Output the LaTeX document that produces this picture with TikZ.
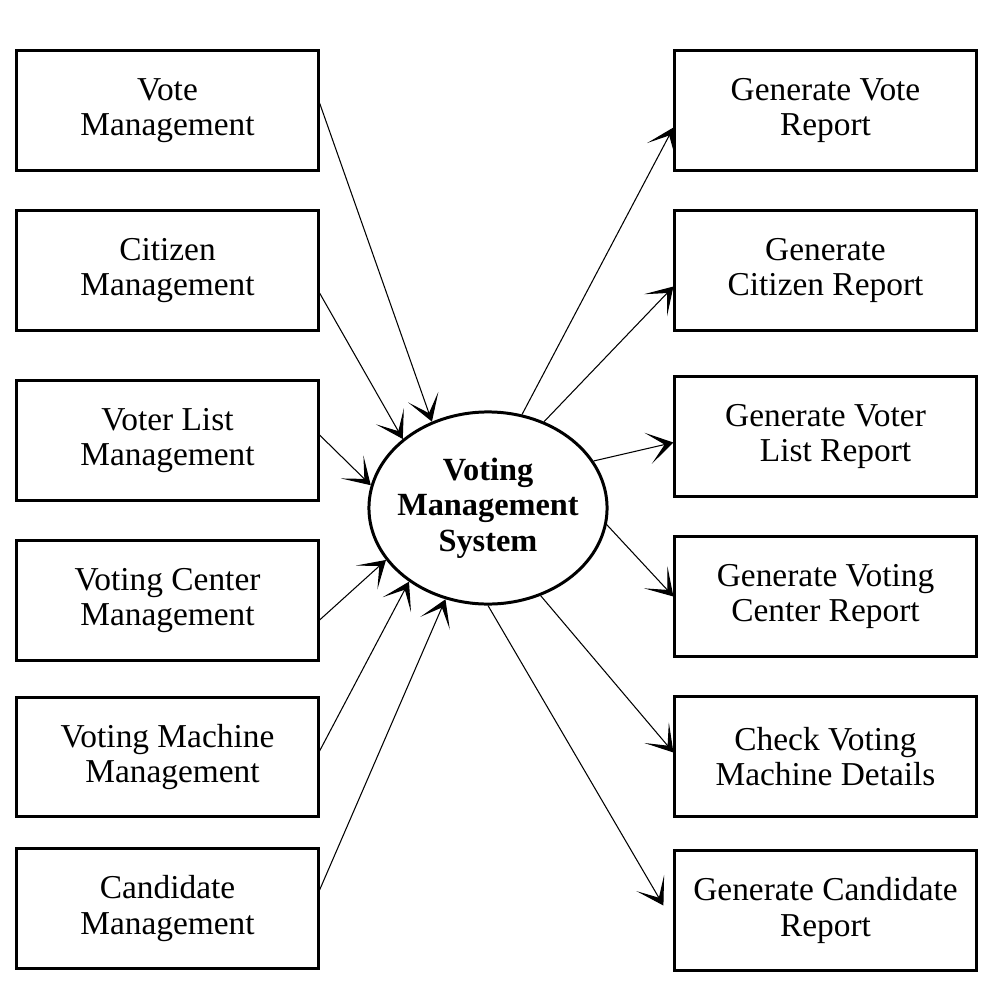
\documentclass[tikz,border=0pt]{standalone}
\usepackage{fontspec}
\setmainfont{Liberation Serif}
\usetikzlibrary{arrows.meta,shapes.geometric,calc}

\begin{document}
\begin{tikzpicture}[
  x=0.01cm,
  y=-0.01cm,
  every node/.style={font=\fontsize{9.5}{10.1}\selectfont},
  module/.style={
    draw,
    line width=0.85pt,
    rectangle,
    minimum width=3.01cm,
    minimum height=1.19cm,
    inner sep=0pt,
    align=center
  },
  flow/.style={
    -{Stealth[length=2.6mm,width=3.2mm,inset=1.7mm]},
    line width=0.3pt
  }
]
  \useasboundingbox (0,0) rectangle (1000,1000);
  % centre
  \node[draw,ellipse,line width=0.85pt,minimum width=2.38cm,minimum height=1.92cm,
    inner xsep=-1.2mm,inner ysep=0pt,align=center,
    font=\fontsize{9.2}{10.1}\selectfont\bfseries]
    (sys) at (488,508) {Voting\\Management\\System};
  % left side
  \node[module] (vote) at (167.5,110.5) {Vote\\Management};
  \node[module] (citizen) at (167.5,270.5) {Citizen\\Management};
  \node[module] (voterlist) at (167.5,440.5) {Voter List\\Management};
  \node[module] (center) at (167.5,600.5) {Voting Center\\Management};
  \node[module] (machine) at (167.5,757) {Voting Machine\\\hspace*{0.3em}Management};
  \node[module] (candidate) at (167.5,908.5) {Candidate\\Management};
  % right side
  \node[module] (votereport) at (825.5,110.5) {Generate Vote\\Report};
  \node[module] (citizenreport) at (825.5,270.5) {Generate\\Citizen Report};
  \node[module] (listreport) at (825.5,436.5) {Generate Voter\\\hspace*{0.6em}List Report};
  \node[module] (centerreport) at (825.5,596.5) {Generate Voting\\Center Report};
  \node[module] (machinecheck) at (825.5,756.5) {Check Voting\\Machine Details};
  \node[module] (candidatereport) at (825.5,910.5) {Generate Candidate\\Report};

  \draw[flow] ([yshift=0.75mm]vote.east) -- (sys.123);
  \draw[flow] ([yshift=-2.25mm]citizen.east) -- (sys.141);
  \draw[flow] ([yshift=0.55mm]voterlist.east) -- (sys.169);
  \draw[flow] ([yshift=-1.95mm]center.east) -- (sys.207);
  \draw[flow] ([yshift=0.6mm]machine.east) -- (sys.223);
  \draw[flow] ([yshift=1.85mm]candidate.east) -- (sys.245);

  \draw[flow] (sys.70) -- ([yshift=-1.7mm]votereport.west);
  \draw[flow] (sys.57) -- ([yshift=-1.6mm]citizenreport.west);
  \draw[flow] (sys.24) -- ([yshift=-0.6mm]listreport.west);
  \draw[flow] (sys.-8) -- (centerreport.west);
  \draw[flow] (sys.-59) -- ([yshift=0.4mm]machinecheck.west);
  \draw[flow] (sys.270) -- ([yshift=0.5mm,xshift=-1mm]candidatereport.west);
\end{tikzpicture}
\end{document}
